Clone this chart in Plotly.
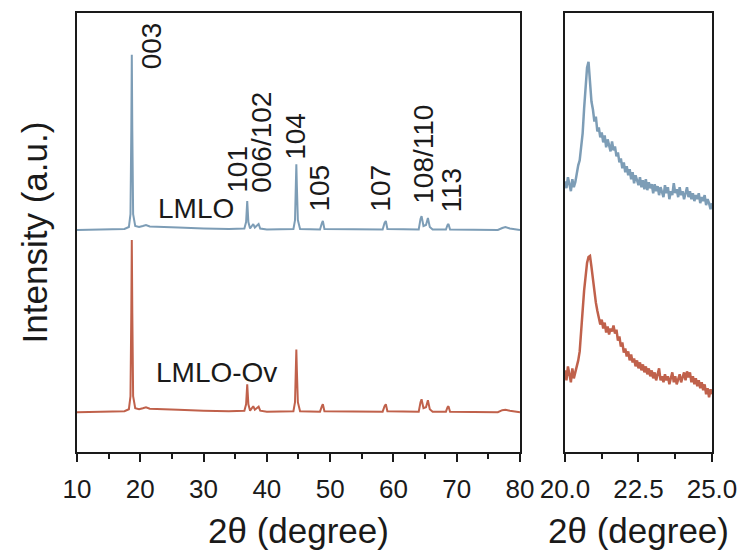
import plotly.graph_objects as go

# ---------------- data ----------------
# Full-range XRD patterns (2theta in degrees, intensity in a.u. above each pattern's baseline)
two_theta_wide = [10.0, 14.0, 17.5, 18.2, 18.45, 18.58, 18.66, 18.74, 18.87, 19.2,
                  19.8, 20.4, 20.9, 21.5, 23.0, 26.0, 30.0, 34.0, 36.45, 36.72,
                  36.9, 37.08, 37.35, 37.65, 37.85, 38.1, 38.45, 38.7, 38.95, 40.0,
                  44.2, 44.45, 44.58, 44.66, 44.74, 44.9, 45.25, 48.4, 48.7, 48.85,
                  49.1, 58.3, 58.6, 58.8, 59.05, 64.0, 64.28, 64.45, 64.75, 65.15,
                  65.45, 65.75, 66.2, 68.3, 68.55, 68.7, 68.95, 76.5, 77.2, 77.7,
                  78.4, 80.0]
lmlo_wide = [0, 0.5, 1, 3, 16, 100, 176, 100, 16, 4,
             3, 4, 5, 3.5, 3, 2.5, 1.5, 1, 1.5, 8,
             29, 8, 1.5, 4, 6, 2.5, 4.5, 6, 1.5, 0.5,
             1, 10, 45, 66, 45, 10, 1, 0.5, 7, 9,
             1, 0.5, 7, 9, 1, 0.5, 11, 14, 4, 5,
             12, 3, 0.5, 0.5, 5, 6, 0.5, 0, 2, 3,
             1.5, 0]
lmlo_ov_wide = [0, 0.5, 1, 3, 16, 100, 173, 100, 16, 4,
                3, 4, 5, 3.5, 3, 2.5, 1.5, 1, 1.5, 8,
                28, 8, 1.5, 4, 6, 2.5, 4, 5.5, 1.5, 0.5,
                1, 10, 43, 63, 43, 10, 1, 0.5, 6, 8,
                1, 0.5, 6, 8, 1, 0.5, 10, 13, 4, 5,
                12, 3, 0.5, 0.5, 5, 6, 0.5, 0, 2, 2.5,
                1.5, 0]

# Zoomed region 20-25 degrees (intensity in a.u. on the stacked scale)
two_theta_zoom = [20.00, 20.05, 20.10, 20.15, 20.20, 20.25, 20.30, 20.35, 20.40, 20.45,
                  20.50, 20.55, 20.60, 20.65, 20.70, 20.75, 20.80, 20.85, 20.90, 20.95,
                  21.00, 21.05, 21.10, 21.15, 21.20, 21.25, 21.30, 21.35, 21.40, 21.45,
                  21.50, 21.55, 21.60, 21.65, 21.70, 21.75, 21.80, 21.85, 21.90, 21.95,
                  22.00, 22.05, 22.10, 22.15, 22.20, 22.25, 22.30, 22.35, 22.40, 22.45,
                  22.50, 22.55, 22.60, 22.65, 22.70, 22.75, 22.80, 22.85, 22.90, 22.95,
                  23.00, 23.05, 23.10, 23.15, 23.20, 23.25, 23.30, 23.35, 23.40, 23.45,
                  23.50, 23.55, 23.60, 23.65, 23.70, 23.75, 23.80, 23.85, 23.90, 23.95,
                  24.00, 24.05, 24.10, 24.15, 24.20, 24.25, 24.30, 24.35, 24.40, 24.45,
                  24.50, 24.55, 24.60, 24.65, 24.70, 24.75, 24.80, 24.85, 24.90, 24.95,
                  25.00]
lmlo_zoom = [272, 265, 276, 268, 262, 274, 266, 271, 280, 288,
             293, 306, 320, 345, 366, 386, 392, 374, 352, 344,
             332, 337, 322, 326, 316, 321, 311, 318, 306, 314,
             309, 302, 312, 303, 307, 297, 301, 291, 295, 285,
             291, 281, 287, 278, 284, 274, 281, 270, 278, 272,
             268, 276, 266, 273, 264, 274, 263, 271, 265, 269,
             260, 269, 262, 267, 258, 266, 260, 256, 268, 260,
             266, 254, 262, 258, 270, 260, 264, 256, 266, 258,
             262, 254, 260, 266, 256, 262, 254, 260, 252, 258,
             254, 260, 250, 256, 252, 258, 248, 254, 250, 244,
             250]
lmlo_ov_zoom = [82, 72, 86, 76, 70, 84, 74, 80, 85, 92,
                101, 118, 142, 162, 178, 190, 196, 197, 186, 172,
                160, 150, 142, 134, 128, 133, 124, 130, 120, 126,
                118, 124, 121, 127, 119, 123, 112, 116, 106, 110,
                100, 104, 96, 101, 92, 98, 90, 94, 86, 92,
                84, 90, 82, 88, 80, 86, 78, 84, 76, 82,
                74, 80, 72, 78, 84, 72, 76, 70, 78, 72,
                76, 68, 74, 80, 70, 76, 68, 74, 78, 70,
                76, 80, 72, 81, 75, 80, 70, 76, 68, 74,
                66, 72, 64, 70, 62, 68, 58, 64, 55, 63,
                58]

hkl_labels = ["003", "101", "006/102", "104", "105", "107", "108/110", "113"]
sample_names = ["LMLO", "LMLO-Ov"]

# ---------------- styling / placement ----------------
BLUE = "#7d9db6"
RED = "#c0614b"
INK = "#1a1a1a"
FONT = "Arial, 'Liberation Sans', sans-serif"
offset_lmlo = 223      # vertical stacking offset of the LMLO pattern
offset_lmlo_ov = 40    # vertical stacking offset of the LMLO-Ov pattern

# annotation anchor points (x in degrees, y = bottom of rotated text)
hkl_x = [21.7, 35.45, 39.25, 44.6, 48.4, 58.05, 64.85, 69.25]
hkl_y = [382, 258, 258, 292, 239, 239, 247, 239]

fig = go.Figure()
fig.add_trace(go.Scatter(x=two_theta_wide, y=[v + offset_lmlo for v in lmlo_wide],
                         mode="lines", line=dict(color=BLUE, width=2),
                         xaxis="x", yaxis="y", name=sample_names[0]))
fig.add_trace(go.Scatter(x=two_theta_wide, y=[v + offset_lmlo_ov for v in lmlo_ov_wide],
                         mode="lines", line=dict(color=RED, width=2),
                         xaxis="x", yaxis="y", name=sample_names[1]))
fig.add_trace(go.Scatter(x=two_theta_zoom, y=lmlo_zoom,
                         mode="lines", line=dict(color=BLUE, width=2.5),
                         xaxis="x2", yaxis="y2", name=sample_names[0]))
fig.add_trace(go.Scatter(x=two_theta_zoom, y=lmlo_ov_zoom,
                         mode="lines", line=dict(color=RED, width=2.5),
                         xaxis="x2", yaxis="y2", name=sample_names[1]))

annotations = []
for lab, ax, ay in zip(hkl_labels, hkl_x, hkl_y):
    annotations.append(dict(text=lab, x=ax, y=ay, xref="x", yref="y",
                            xanchor="center", yanchor="bottom", textangle=-90,
                            showarrow=False, font=dict(size=28, color=INK, family=FONT)))
annotations.append(dict(text=sample_names[0], x=28.8, y=245, xref="x", yref="y",
                        xanchor="center", yanchor="middle", showarrow=False,
                        font=dict(size=28, color=INK, family=FONT)))
annotations.append(dict(text=sample_names[1], x=32.1, y=80, xref="x", yref="y",
                        xanchor="center", yanchor="middle", showarrow=False,
                        font=dict(size=28, color=INK, family=FONT)))

axis_common = dict(showline=True, linewidth=1.5, linecolor=INK, mirror=True,
                   showgrid=False, zeroline=False)

# the page body adds an 8 px offset, so the figure is 8 px smaller and margins shifted
fig.update_layout(
    width=745, height=552,
    margin=dict(l=69, r=41, t=3, b=108),
    paper_bgcolor="white", plot_bgcolor="white",
    showlegend=False,
    font=dict(family=FONT, color=INK),
    annotations=annotations,
    xaxis=dict(domain=[0, 0.6976], range=[10, 80], dtick=10, tick0=10,
               ticks="outside", ticklen=8, tickwidth=1.5, tickcolor=INK,
               minor=dict(dtick=5, ticklen=5, tickwidth=1.5, ticks="outside", tickcolor=INK),
               tickfont=dict(size=26, color=INK), ticklabelstandoff=5,
               title=dict(text="2θ (degree)", font=dict(size=35, color=INK), standoff=16),
               **axis_common),
    yaxis=dict(domain=[0, 1], range=[0, 441], showticklabels=False, ticks="",
               title=dict(text="Intensity (a.u.)", font=dict(size=35, color=INK), standoff=17),
               **axis_common),
    xaxis2=dict(domain=[0.7685, 1], anchor="y2", range=[20, 25], dtick=2.5, tick0=20,
                tickformat=".1f",
                ticks="outside", ticklen=8, tickwidth=1.5, tickcolor=INK,
                minor=dict(dtick=1.25, ticklen=5, tickwidth=1.5, ticks="outside", tickcolor=INK),
                tickfont=dict(size=26, color=INK), ticklabelstandoff=5,
                title=dict(text="2θ (degree)", font=dict(size=35, color=INK), standoff=16),
                **axis_common),
    yaxis2=dict(domain=[0, 1], anchor="x2", range=[0, 441], showticklabels=False, ticks="",
                **axis_common),
)

fig.write_html("out.html")
